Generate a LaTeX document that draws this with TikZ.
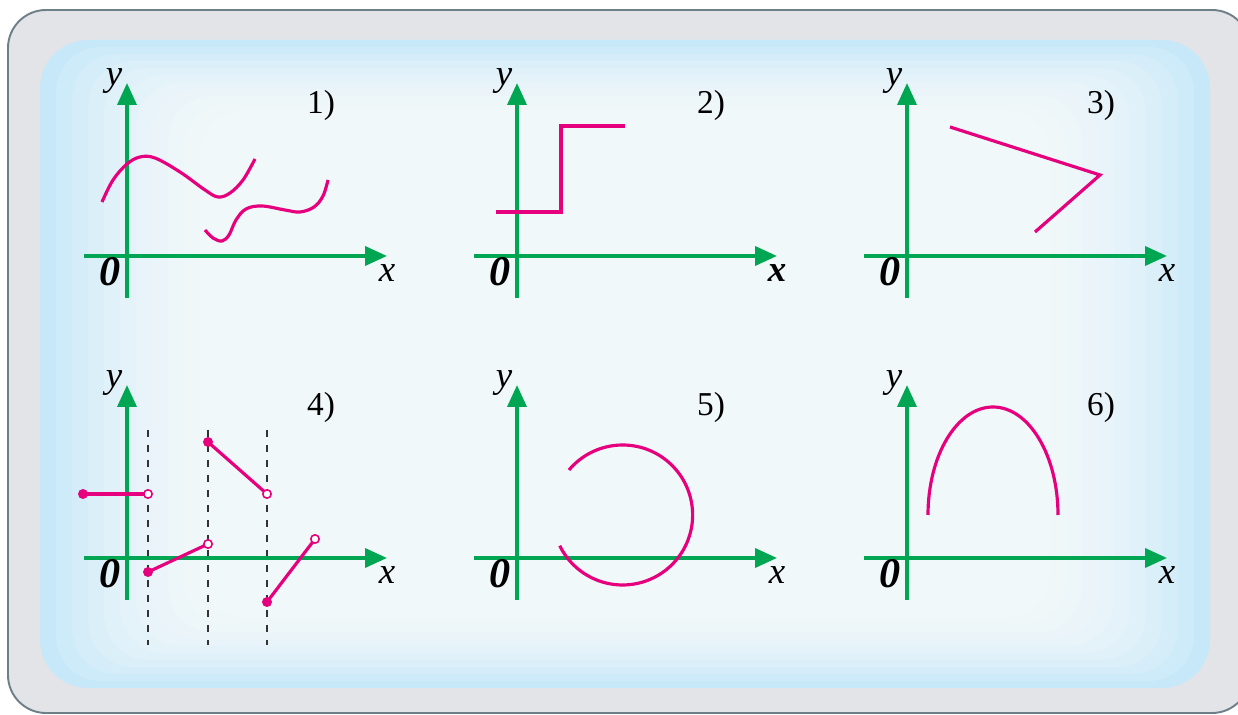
\documentclass[tikz,border=0pt]{standalone}
\usepackage{fontspec}
\setmainfont{Liberation Serif}
\usetikzlibrary{arrows.meta}

\definecolor{axisgreen}{HTML}{00A651}
\definecolor{curvepink}{HTML}{E6007E}
\definecolor{framegray}{HTML}{E3E4E8}
\definecolor{frameline}{HTML}{6E7F88}
\definecolor{panelblue}{HTML}{C6E8F8}

\tikzset{
  axisline/.style={axisgreen, line width=2.1pt, -{Triangle[length=0.44cm, width=0.38cm]}},
  fcurve/.style={curvepink, line width=1.8pt},
  guideline/.style={black!80, line width=0.8pt, dash pattern=on 0.14cm off 0.16cm},
  fulldot/.style={fill=curvepink},
  holedot/.style={fill=white, draw=curvepink, line width=0.9pt},
  axlabel/.style={font=\fontsize{21}{25}\selectfont\itshape, inner sep=0pt},
  numlabel/.style={font=\fontsize{19}{23}\selectfont, inner sep=0pt},
}

\begin{document}
\begin{tikzpicture}[x=0.02cm, y=-0.02cm]
  \useasboundingbox (0,0) rectangle (1238,715);

  % Outer frame
  \draw[fill=framegray, draw=frameline, line width=1.1pt, rounded corners=0.76cm]
    (8,10) rectangle (1250,713);

  % Inner panel with a soft glow towards the middle
  \fill[panelblue, rounded corners=0.96cm] (40,40) rectangle (1210,688);
  \foreach \i in {1,...,10} {
    \fill[white, opacity=0.15, rounded corners=0.9cm]
      ({40+16*\i}, {40+7*\i}) rectangle ({1210-16*\i}, {688-7*\i});
  }

  % Dashed guides of graph 4 (under the axes)
  \foreach \gx in {148, 208, 267}
    \draw[guideline] (\gx,430) -- (\gx,645);

  % Axes and labels of the six graphs
  \foreach \ox/\oy/\num/\xlab in {127/256/1/x, 517/256/2/{\textbf{x}}, 907/256/3/x,
                                  127/558/4/x, 517/558/5/x, 907/558/6/x} {
    \begin{scope}[shift={(\ox,\oy)}]
      \draw[axisline] (-43,0) -- (260,0);
      \draw[axisline] (0,42) -- (0,-173);
      \node[axlabel] (ylab\num) at (-13,-175) {y};
      \node[axlabel] (xlab\num) at (260,17) {\xlab};
      \node[axlabel, font=\fontsize{24}{28}\selectfont\bfseries\itshape] (zero\num) at (-17,16) {0};
      \node[numlabel] (num\num) at (194,-151) {\num)};
    \end{scope}
  }

  % Graph 1: two wavy pieces
  \draw[fcurve] plot[smooth, tension=0.6] coordinates {(102,202) (113,180) (127,164) (140,157)
    (155,158) (180,172) (205,190) (218,197) (230,193) (243,180) (255,159)};
  \draw[fcurve] plot[smooth, tension=0.6] coordinates {(205,230) (213,238) (222,241) (229,235)
    (236,220) (246,209) (262,206) (285,210) (300,212) (314,207) (323,196) (328,180)};

  % Graph 2: step
  \draw[fcurve] (496,212) -- (561,212) -- (561,126) -- (625,126);

  % Graph 3: broken line
  \draw[fcurve] (950,127) -- (1100,175) -- (1035,232);

  % Graph 4: pieces with jumps
  \draw[fcurve] (83,494) -- (148,494);
  \draw[fcurve] (148,572) -- (208,544);
  \draw[fcurve] (208,442) -- (267,494);
  \draw[fcurve] (267,602) -- (315,539);
  \foreach \dx/\dy in {83/494, 148/572, 208/442, 267/602}
    \fill[fulldot] (\dx,\dy) circle (5);
  \foreach \dx/\dy in {148/494, 208/544, 267/494, 315/539}
    \filldraw[holedot] (\dx,\dy) circle (4.2);

  % Graph 5: open circle
  \draw[fcurve] (569,470) arc[start angle=220, end angle=514, radius=70];

  % Graph 6: arch
  \draw[fcurve] (928,515) arc[start angle=180, end angle=360, x radius=65, y radius=108];
\end{tikzpicture}
\end{document}
